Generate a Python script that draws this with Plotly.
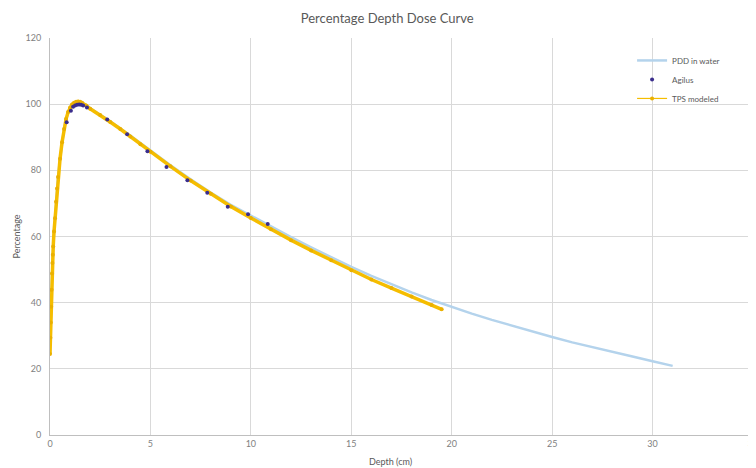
import plotly.graph_objects as go

# PDD in water (blue)
pdd_depth = [0, 0.1, 0.2, 0.3, 0.4, 0.5, 0.6, 0.7, 0.8, 0.9, 1.0, 1.2, 1.4, 1.6, 1.8, 2,
             3, 4, 5, 6, 7, 8, 9, 10, 11, 12, 13, 14, 15, 16, 17, 18, 19, 20,
             21, 22, 23, 24, 25, 26, 27, 28, 29, 30, 31]
pdd_value = [24.5, 48.5, 61.5, 70.5, 78.0, 83.5, 88.5, 92.5, 95.5, 97.6, 99.0, 100.3, 100.7, 100.4, 99.6, 98.7,
             94.8, 90.5, 85.9, 81.5, 77.3, 73.3, 69.6, 66.3, 63.0, 59.8, 56.7, 53.7, 50.8, 48.1, 45.5, 43.1, 40.8, 38.7,
             36.7, 34.8, 33.0, 31.3, 29.6, 28.0, 26.5, 25.1, 23.7, 22.3, 20.9]

# Agilus measurements
agilus_depth = [0.83, 1.04, 1.15, 1.25, 1.35, 1.45, 1.55, 1.65, 1.84, 2.85, 3.84, 4.85,
                5.8, 6.84, 7.83, 8.85, 9.86, 10.84]
agilus_value = [94.5, 98.0, 99.2, 99.6, 99.8, 99.9, 99.8, 99.6, 99.0, 95.4, 90.9, 85.8,
                81.0, 77.0, 73.2, 69.0, 66.7, 63.8]

# TPS modeled
tps_depth = [0.00, 0.02, 0.04, 0.06, 0.08, 0.10, 0.12, 0.14, 0.16, 0.20, 0.25, 0.30, 0.35, 0.40,
             0.50, 0.60, 0.70, 0.80, 0.90, 1.00, 1.10, 1.20, 1.30, 1.40, 1.50, 1.60, 1.80, 2.00,
             2.5, 3, 3.5, 4, 4.5, 5, 6, 7, 8, 9, 10, 11, 12, 13, 14, 15, 16, 17, 18, 19, 19.5]
tps_value = [24.5, 29.4, 34.0, 38.8, 43.9, 48.8, 52.0, 54.5, 57.0, 61.5, 65.5, 70.5, 74.5, 78.0,
             83.5, 88.5, 92.5, 95.5, 97.6, 99.0, 99.9, 100.4, 100.7, 100.8, 100.7, 100.4, 99.6, 98.6,
             96.7, 94.6, 92.5, 90.2, 87.9, 85.6, 81.2, 76.9, 72.9, 69.1, 65.6, 62.2, 58.9, 55.8, 52.8,
             49.8, 47.0, 44.4, 41.9, 39.3, 38.0]

x_ticks = [0, 5, 10, 15, 20, 25, 30, 35]
y_ticks = [0, 20, 40, 60, 80, 100, 120]

FONT = "Lato, 'Open Sans', sans-serif"
GREY = "#7f7f7f"
YELLOW = "#f5bd00"

fig = go.Figure()
fig.add_trace(go.Scatter(x=pdd_depth, y=pdd_value, mode="lines", name="PDD in water",
                         line=dict(color="#b4d3ec", width=2.5), legendrank=1))
fig.add_trace(go.Scatter(x=tps_depth, y=tps_value, mode="lines+markers", name="TPS modeled",
                         line=dict(color=YELLOW, width=3.5),
                         marker=dict(color="#eab000", size=4), showlegend=False))
fig.add_trace(go.Scatter(x=agilus_depth, y=agilus_value, mode="markers", name="Agilus",
                         marker=dict(color="#3a2d8c", size=4), legendrank=2))
# legend entry for TPS (thin line sample like the original)
fig.add_trace(go.Scatter(x=[None], y=[None], mode="lines+markers", name="TPS modeled",
                         line=dict(color=YELLOW, width=1.2),
                         marker=dict(color="#eab000", size=4), legendrank=3))

fig.update_layout(
    width=748, height=460,
    margin=dict(l=42, r=3, t=30, b=33, autoexpand=False),
    paper_bgcolor="white", plot_bgcolor="white",
    font=dict(family=FONT, color=GREY, size=9),
    title=dict(text="Percentage Depth Dose Curve", x=0.507, xanchor="center", y=0.978, yanchor="middle",
               font=dict(size=13, color="#595959", family=FONT)),
    showlegend=True,
    legend=dict(x=0.828, y=0.98, xanchor="left", yanchor="top", bgcolor="rgba(0,0,0,0)",
                font=dict(size=8, color="#595959", family=FONT), itemwidth=30,
                traceorder="normal"),
    xaxis=dict(range=[0, 35], tickvals=x_ticks, showgrid=True, gridcolor="#d9d9d9", gridwidth=1,
               zeroline=False, showline=True, linecolor="#bfbfbf", linewidth=1, automargin=False,
               ticks="", ticklabeloverflow="allow", tickfont=dict(size=9, color=GREY)),
    yaxis=dict(range=[0, 120], tickvals=y_ticks, showgrid=True, gridcolor="#d9d9d9", gridwidth=1,
               zeroline=False, showline=True, linecolor="#bfbfbf", linewidth=1, automargin=False,
               ticks="", ticklabelstandoff=6, tickfont=dict(size=9, color=GREY)),
    annotations=[
        dict(text="Depth (cm)", x=0.485, y=-0.068, xref="paper", yref="paper", showarrow=False,
             xanchor="center", yanchor="middle", font=dict(size=9, color="#595959")),
        dict(text="Percentage", x=-0.047, y=0.5, xref="paper", yref="paper", showarrow=False,
             textangle=-90, xanchor="center", yanchor="middle", font=dict(size=9, color="#595959")),
    ],
)

fig.write_html("out.html")
